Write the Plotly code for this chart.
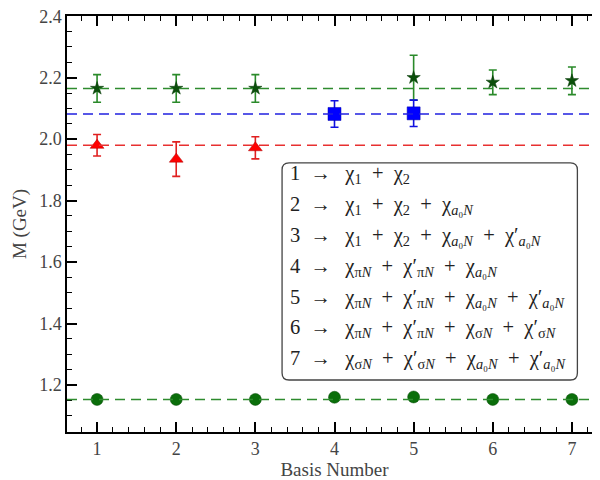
import plotly.graph_objects as go

basis = [1, 2, 3, 4, 5, 6, 7]

# Upper green stars
star_x = [1, 2, 3, 5, 6, 7]
star_y = [2.165, 2.165, 2.165, 2.200, 2.185, 2.190]
star_err = [0.045, 0.045, 0.045, 0.073, 0.040, 0.045]
star_mean = 2.165

# Blue squares
sq_x = [4, 5]
sq_y = [2.082, 2.084]
sq_err = [0.043, 0.043]
sq_mean = 2.082

# Red triangles
tri_x = [1, 2, 3]
tri_y = [1.980, 1.935, 1.972]
tri_err = [0.035, 0.056, 0.036]
tri_mean = 1.980

# Lower green circles
circ_x = [1, 2, 3, 4, 5, 6, 7]
circ_y = [1.153, 1.153, 1.153, 1.160, 1.161, 1.153, 1.153]
circ_mean = 1.153

y_ticks = [1.2, 1.4, 1.6, 1.8, 2.0, 2.2, 2.4]
y_ticktext = ["1.2", "1.4", "1.6", "1.8", "2.0", "2.2", "2.4"]

A = "<i>a</i>₀<i>N</i>"
P = "π<i>N</i>"
S = "σ<i>N</i>"
SP = "\u2002+\u2002"
AR = "\u2002→\u2002\u2009"
legend_lines = [
    "1" + AR + "χ<sub>1</sub>" + SP + "χ<sub>2</sub>",
    "2" + AR + "χ<sub>1</sub>" + SP + "χ<sub>2</sub>" + SP + f"χ<sub>{A}</sub>",
    "3" + AR + "χ<sub>1</sub>" + SP + "χ<sub>2</sub>" + SP + f"χ<sub>{A}</sub>" + SP + f"χ′<sub>{A}</sub>",
    "4" + AR + f"χ<sub>{P}</sub>" + SP + f"χ′<sub>{P}</sub>" + SP + f"χ<sub>{A}</sub>",
    "5" + AR + f"χ<sub>{P}</sub>" + SP + f"χ′<sub>{P}</sub>" + SP + f"χ<sub>{A}</sub>" + SP + f"χ′<sub>{A}</sub>",
    "6" + AR + f"χ<sub>{P}</sub>" + SP + f"χ′<sub>{P}</sub>" + SP + f"χ<sub>{S}</sub>" + SP + f"χ′<sub>{S}</sub>",
    "7" + AR + f"χ<sub>{S}</sub>" + SP + f"χ′<sub>{S}</sub>" + SP + f"χ<sub>{A}</sub>" + SP + f"χ′<sub>{A}</sub>",
]

FONT = "Liberation Serif"
fig = go.Figure()

dash = "10px,6px"
fig.add_hline(y=star_mean, line=dict(color="#2e8b2e", width=1.6, dash=dash))
fig.add_hline(y=sq_mean, line=dict(color="#2020e0", width=1.6, dash=dash))
fig.add_hline(y=tri_mean, line=dict(color="#e83030", width=1.6, dash=dash))
fig.add_hline(y=circ_mean, line=dict(color="#2e8b2e", width=1.6, dash=dash))

fig.add_trace(go.Scatter(
    x=star_x, y=star_y, mode="markers",
    error_y=dict(type="data", array=star_err, color="#2a8a2a", thickness=1.6, width=4),
    marker=dict(symbol="star", size=10, color="#0b4f0b", line=dict(color="#083a08", width=0.5)),
    showlegend=False))
fig.add_trace(go.Scatter(
    x=sq_x, y=sq_y, mode="markers",
    error_y=dict(type="data", array=sq_err, color="#1010e0", thickness=1.6, width=4),
    marker=dict(symbol="square", size=13, color="#0000ff", line=dict(color="#0000aa", width=0.5)),
    showlegend=False))
fig.add_trace(go.Scatter(
    x=tri_x, y=tri_y, mode="markers",
    error_y=dict(type="data", array=tri_err, color="#e02020", thickness=1.6, width=4),
    marker=dict(symbol="triangle-up", size=12, color="#ff0000", line=dict(color="#aa0000", width=0.5)),
    showlegend=False))
fig.add_trace(go.Scatter(
    x=circ_x, y=circ_y, mode="markers",
    marker=dict(symbol="circle", size=12, color="#0a6e0a", line=dict(color="#064a06", width=0.5)),
    showlegend=False))

# legend box (rounded rectangle, paper coordinates)
x0, x1, y0, y1 = 0.402, 0.954, 0.125, 0.647
rx, ry = 7 / 535, 7 / 416
path = (f"M {x0+rx},{y1} L {x1-rx},{y1} Q {x1},{y1} {x1},{y1-ry} "
        f"L {x1},{y0+ry} Q {x1},{y0} {x1-rx},{y0} L {x0+rx},{y0} "
        f"Q {x0},{y0} {x0},{y0+ry} L {x0},{y1-ry} Q {x0},{y1} {x0+rx},{y1} Z")
fig.add_shape(type="path", path=path, xref="paper", yref="paper",
              line=dict(color="#444444", width=1.3), fillcolor="white", layer="above")
for i, txt in enumerate(legend_lines):
    fig.add_annotation(xref="paper", yref="paper", x=0.413, y=0.618 - i * 0.074,
                       text=txt, showarrow=False, xanchor="left", yanchor="middle",
                       font=dict(family=FONT, size=20.5, color="#222222"))

axis_common = dict(
    showline=True, linecolor="black", linewidth=1.5, mirror="ticks",
    ticks="inside", ticklen=10, tickwidth=1.5, tickcolor="black",
    showgrid=False, zeroline=False, ticklabeloverflow="allow", automargin=False,
    tickfont=dict(family=FONT, size=18, color="#444444"),
)
fig.update_xaxes(**axis_common, range=[0.62, 7.38], tickvals=basis,
                 minor=dict(ticks="inside", ticklen=5, tickwidth=1.2, tickcolor="black", dtick=0.2, tick0=0),
                 title=dict(text="Basis Number", font=dict(family=FONT, size=19, color="#444444"), standoff=4))
fig.update_yaxes(**axis_common, range=[1.047, 2.4008], tickvals=y_ticks, ticktext=y_ticktext,
                 minor=dict(ticks="inside", ticklen=5, tickwidth=1.2, tickcolor="black", dtick=0.05, tick0=0),
                 title=dict(text="M (GeV)", font=dict(family=FONT, size=19, color="#444444"), standoff=8))

fig.update_layout(width=600, height=480, margin=dict(l=59, r=6, t=8, b=56),
                  plot_bgcolor="white", paper_bgcolor="white")
fig.write_html("out.html")
